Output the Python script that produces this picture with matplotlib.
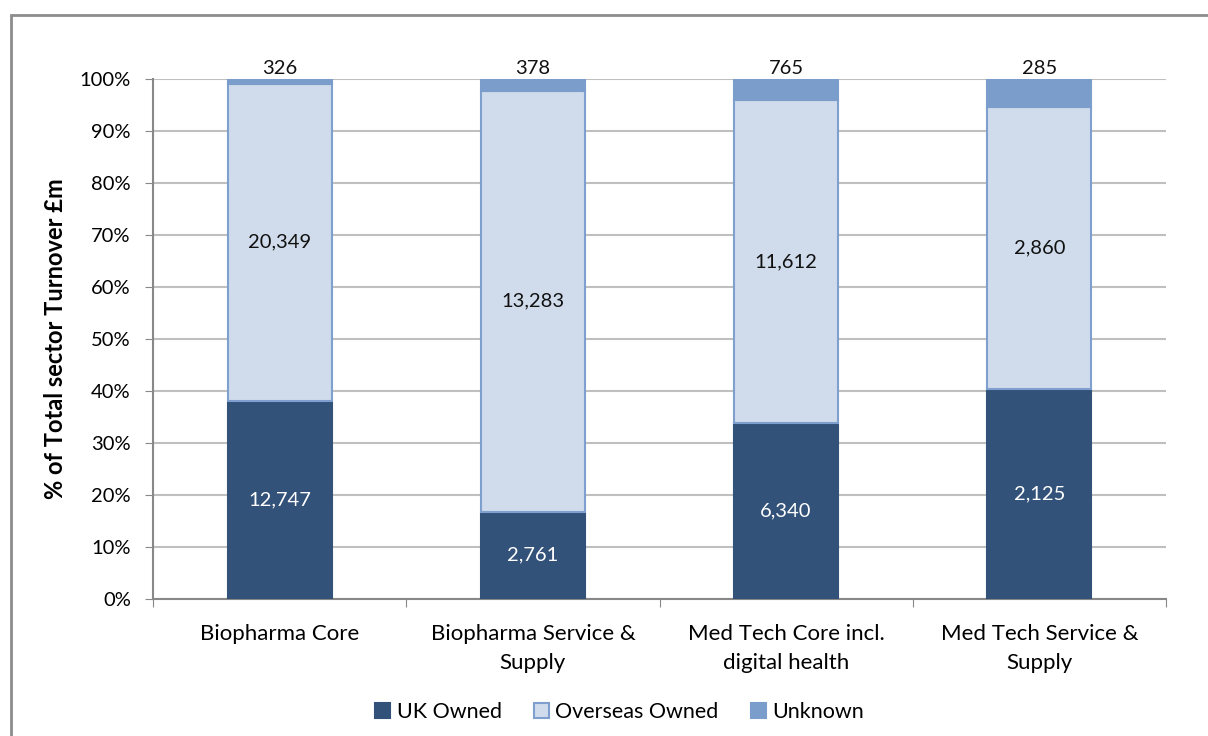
import numpy as np
import matplotlib.pyplot as plt
from matplotlib.patches import Rectangle
from matplotlib.ticker import PercentFormatter

plt.rcParams['font.family'] = ['Lato', 'DejaVu Sans']

categories = ['Biopharma Core', 'Biopharma Service &\nSupply',
              'Med Tech Core incl.\ndigital health', 'Med Tech Service &\nSupply']
uk_owned = [12747, 2761, 6340, 2125]
overseas_owned = [20349, 13283, 11612, 2860]
unknown = [326, 378, 765, 285]

series = ['UK Owned', 'Overseas Owned', 'Unknown']
colors = ['#335279', '#d0dcec', '#7b9dcb']
edges = ['#335279', '#7f9fcf', '#7b9dcb']
text_colors = ['white', '#111111', '#111111']

values = np.array([uk_owned, overseas_owned, unknown], dtype=float)
shares = values / values.sum(axis=0) * 100

fig = plt.figure(figsize=(12.08, 7.36), dpi=100)
ax = fig.add_axes([0.1267, 0.1861, 0.8385, 0.7066])

x = np.arange(len(categories))
bottom = np.zeros(len(categories))
for i, name in enumerate(series):
    ax.bar(x, shares[i], 0.41, bottom=bottom, color=colors[i],
           edgecolor=edges[i], linewidth=1.5, label=name, zorder=3)
    for j in range(len(categories)):
        if i < 2:
            ypos = bottom[j] + shares[i][j] / 2
            ax.text(x[j], ypos, f'{int(values[i][j]):,}', ha='center', va='center',
                    fontsize=14.5, color=text_colors[i], zorder=4)
        else:
            ax.text(x[j], 100.3, f'{int(values[i][j]):,}', ha='center', va='bottom',
                    fontsize=14.5, color='#111111', zorder=4)
    bottom += shares[i]

ax.set_xlim(-0.5, len(categories) - 0.5)
ax.set_ylim(0, 100)
ax.set_yticks(np.arange(0, 101, 10))
ax.yaxis.set_major_formatter(PercentFormatter(decimals=0))
ax.set_xticks(np.arange(-0.5, len(categories), 1), minor=False)
ax.set_xticklabels([])
ax.set_xticks(x, minor=True)
ax.set_xticklabels(categories, minor=True, fontsize=16, linespacing=1.55)
ax.tick_params(axis='x', which='minor', length=0, pad=18)
ax.tick_params(axis='x', which='major', length=6, color='#888888')
ax.tick_params(axis='y', length=6, color='#888888', labelsize=14.5, pad=10)

ax.grid(axis='y', color='#bfbfbf', linewidth=1.5, zorder=0)
for side in ['top', 'right']:
    ax.spines[side].set_visible(False)
for side in ['left', 'bottom']:
    ax.spines[side].set_color('#888888')
    ax.spines[side].set_linewidth(1.5)

ax.set_ylabel('% of Total sector Turnover £m', fontsize=17, fontweight='bold', labelpad=9)

fig.legend(loc='center', bbox_to_anchor=(0.513, 0.033), ncol=3, frameon=False,
           fontsize=15.5, handlelength=0.7, handleheight=0.7, columnspacing=1.5,
           handletextpad=0.3)

fig.patches.append(Rectangle((11 / 1208, -0.1), 1.2, 1 - 15 / 736 + 0.1,
                             transform=fig.transFigure, fill=False,
                             edgecolor='#8c8c8c', linewidth=2))

fig.savefig('out.png', dpi=100)
